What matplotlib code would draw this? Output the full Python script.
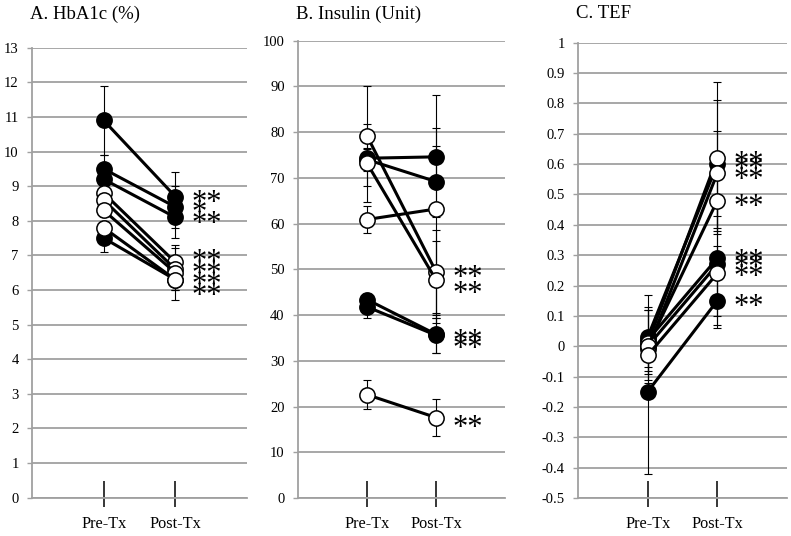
import matplotlib
matplotlib.use('Agg')
import matplotlib.pyplot as plt
import numpy as np
from matplotlib.ticker import FixedLocator, FuncFormatter

plt.rcParams['font.family'] = ['Liberation Serif', 'DejaVu Serif']
plt.rcParams['axes.unicode_minus'] = False

categories = ['Pre-Tx', 'Post-Tx']

# A. HbA1c (%)  (first four series filled, last four open)
hba1c_pre = [10.9, 9.5, 9.2, 7.5, 8.8, 8.6, 8.3, 7.8]
hba1c_post = [8.7, 8.4, 8.1, 6.3, 6.8, 6.6, 6.5, 6.3]
hba1c_pre_sd = [1.0, 0.4, 0.2, 0.4, 0.2, 0.2, 0.2, 0.2]
hba1c_post_sd = [0.7, 0.6, 0.6, 0.6, 0.5, 0.6, 0.2, 0.3]
hba1c_filled = [True, True, True, True, False, False, False, False]
hba1c_star_y = [8.7, 8.4, 8.1, 6.98, 6.66, 6.34, 6.02]
hba1c_star = ['**', '*', '**', '**', '**', '**', '**']

# B. Insulin (Unit)
insulin_pre = [74.3, 74.0, 43.4, 41.8, 79.2, 73.2, 60.9, 22.6]
insulin_post = [74.6, 69.2, 35.8, 35.6, 49.5, 47.7, 63.2, 17.6]
insulin_pre_sd = [2.0, 2.5, 1.5, 2.4, 11.0, 8.5, 3.0, 3.2]
insulin_post_sd = [6.4, 7.7, 4.2, 3.8, 9.0, 8.4, 25.0, 4.1]
insulin_filled = [True, True, True, True, False, False, False, False]
insulin_star_y = [49.5, 46.1, 35.6, 34.0, 16.6]
insulin_star = ['**', '**', '**', '**', '**']

# C. TEF
tef_pre = [0.03, 0.02, 0.0, -0.15, 0.01, -0.01, 0.0, -0.03]
tef_post = [0.60, 0.29, 0.27, 0.15, 0.62, 0.57, 0.48, 0.24]
tef_pre_sd = [0.14, 0.11, 0.12, 0.27, 0.04, 0.06, 0.05, 0.05]
tef_post_sd = [0.21, 0.19, 0.20, 0.09, 0.25, 0.14, 0.10, 0.09]
tef_filled = [True, True, True, True, False, False, False, False]
tef_star_y = [0.62, 0.60, 0.57, 0.48, 0.30, 0.28, 0.25, 0.15]
tef_star = ['**'] * 8

GRID = '#a0a0a0'
STAR_FS = 22


def fmt_tick(v, pos):
    v = round(v, 1)
    if v == 0:
        return '0'
    return f'{v:g}'


def draw_panel(ax, title, pre, post, pre_sd, post_sd, filled, star_y, stars,
               ylim, step):
    x = np.arange(1, len(categories) + 1)
    # error bars (under the markers)
    for p, q, ps, qs in zip(pre, post, pre_sd, post_sd):
        ax.errorbar(x, [p, q], yerr=[ps, qs], fmt='none', ecolor='black',
                    elinewidth=0.8, capsize=3, capthick=0.8, zorder=2)
    # filled series first, open ones on top
    order = [i for i in range(len(pre)) if filled[i]] + \
            [i for i in range(len(pre)) if not filled[i]]
    for i in order:
        ax.plot(x, [pre[i], post[i]], '-o', color='black', lw=2.2, ms=11,
                mfc='black' if filled[i] else 'white', mec='black', mew=1.1,
                zorder=3)
    for sy, s in zip(star_y, stars):
        ax.annotate(s, xy=(x[-1], sy), xytext=(12.0, -0.47 * STAR_FS),
                    textcoords='offset points', ha='left', va='baseline',
                    fontsize=STAR_FS, zorder=4)

    ax.set_xlim(0, 3)
    ax.set_ylim(*ylim)
    ticks = np.round(np.arange(ylim[0], ylim[1] + step / 2, step), 1)
    ax.yaxis.set_major_locator(FixedLocator(ticks))
    ax.yaxis.set_major_formatter(FuncFormatter(fmt_tick))
    ax.yaxis.grid(True, color=GRID, lw=1.3)
    ax.set_axisbelow(True)
    for s in ['top', 'right']:
        ax.spines[s].set_visible(False)
    for s in ['left', 'bottom']:
        ax.spines[s].set_color(GRID)
        ax.spines[s].set_linewidth(1.3)
    ax.tick_params(axis='y', direction='out', length=3.6, width=1.0,
                   color=GRID, labelsize=10.5, pad=6)

    ax.xaxis.remove_overlapping_locs = False
    ax.set_xticks(x)
    ax.set_xticklabels(categories)
    ax.set_xticks(x, minor=True)
    ax.tick_params(axis='x', which='major', direction='in', length=12.2,
                   width=1.1, color='black', labelsize=11.7, pad=13)
    ax.tick_params(axis='x', which='minor', direction='out', length=6.5,
                   width=1.1, color='black', labelbottom=False)

    pos = ax.get_position()
    ax.figure.text(pos.x0 - 0.002, 1 - 14 / 536, title, ha='left',
                   va='center', fontsize=13.5)


fig = plt.figure(figsize=(7.91, 5.36), dpi=100)
ax_a = fig.add_axes([32 / 791, (536 - 497.7) / 536, 215 / 791, 450 / 536])
ax_b = fig.add_axes([298 / 791, (536 - 498) / 536, 207 / 791, 457.3 / 536])
ax_c = fig.add_axes([578 / 791, (536 - 498) / 536, 209 / 791, 455.3 / 536])

draw_panel(ax_a, 'A. HbA1c (%)', hba1c_pre, hba1c_post, hba1c_pre_sd,
           hba1c_post_sd, hba1c_filled, hba1c_star_y, hba1c_star, (0, 13), 1)
draw_panel(ax_b, 'B. Insulin (Unit)', insulin_pre, insulin_post,
           insulin_pre_sd, insulin_post_sd, insulin_filled, insulin_star_y,
           insulin_star, (0, 100), 10)
draw_panel(ax_c, 'C. TEF', tef_pre, tef_post, tef_pre_sd, tef_post_sd,
           tef_filled, tef_star_y, tef_star, (-0.5, 1), 0.1)

fig.savefig('out.png', dpi=100)
